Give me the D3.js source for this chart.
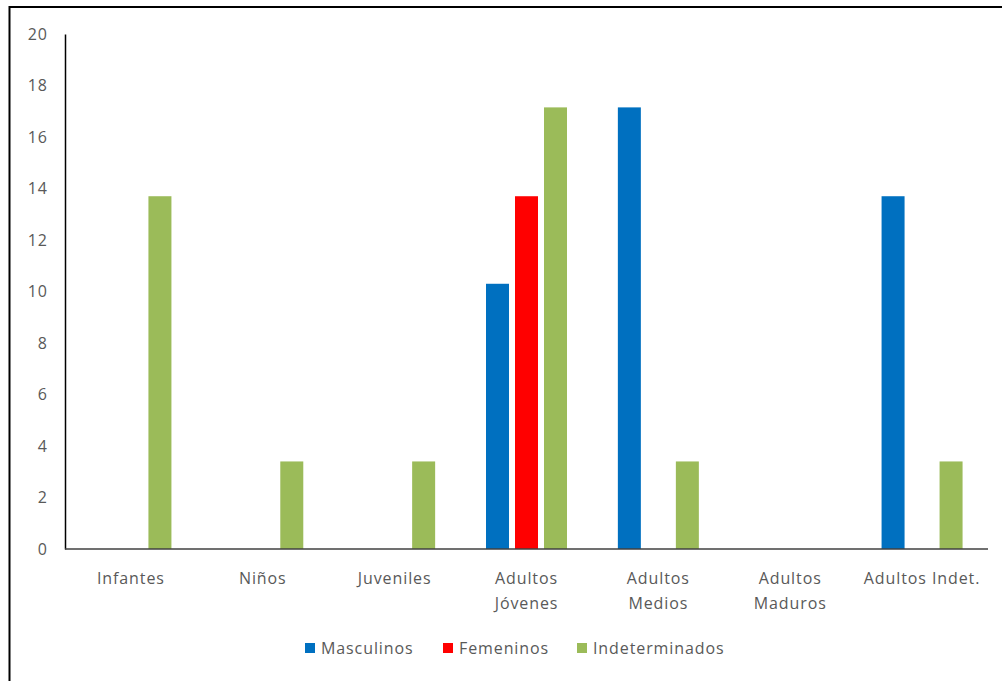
<!DOCTYPE html>
<html><head><meta charset="utf-8">
<script src="https://cdn.jsdelivr.net/npm/d3@7"></script>
<style>body{margin:0;background:#fff;}svg{display:block;}</style>
</head><body>
<svg id="c" width="1002" height="681"></svg>
<script>
const categories = [["Infantes"],["Niños"],["Juveniles"],["Adultos","Jóvenes"],["Adultos","Medios"],["Adultos","Maduros"],["Adultos Indet."]];
const seriesNames = ["Masculinos","Femeninos","Indeterminados"];
const seriesColors = ["#0070C0","#FF0000","#9BBB59"];
const masculinos = [0,0,0,10.3,17.15,0,13.7];
const femeninos = [0,0,0,13.7,0,0,0];
const indeterminados = [13.7,3.4,3.4,17.15,3.4,0,3.4];
const yTicks = [0,2,4,6,8,10,12,14,16,18,20];

const svg = d3.select("#c");
const font = "'Open Sans', sans-serif";
svg.append("rect").attr("x",9.5).attr("y",7).attr("width",1100).attr("height",800)
  .attr("fill","none").attr("stroke","#000").attr("stroke-width",2);

const x0 = 65, x1 = 988, yTop = 34, yBot = 549;
const x = d3.scaleBand().domain(d3.range(categories.length)).range([x0,x1]).padding(0);
const y = d3.scaleLinear().domain([0,20]).range([yBot,yTop]);
const xs = d3.scaleBand().domain([0,1,2]).range([-40.5,40.5]).paddingInner(0.207).paddingOuter(0);

const series = [masculinos,femeninos,indeterminados];
series.forEach((vals,si)=>{
  svg.append("g").selectAll("rect").data(vals).join("rect")
    .attr("x",(d,i)=>x(i)+x.bandwidth()/2+xs(si))
    .attr("width",xs.bandwidth())
    .attr("y",d=>y(d))
    .attr("height",d=>yBot-y(d))
    .attr("fill",seriesColors[si]);
});

// y axis
const ya = svg.append("g").attr("transform",`translate(${x0},0)`)
  .call(d3.axisLeft(y).tickValues(yTicks).tickSize(0).tickPadding(17));
ya.select(".domain").attr("stroke","#000").attr("stroke-width",1.5);
ya.selectAll("text").attr("font-family",font).attr("font-size",16).attr("letter-spacing","1px").attr("fill","#595959");

// x baseline
svg.append("line").attr("x1",x0).attr("x2",x1).attr("y1",yBot).attr("y2",yBot)
  .attr("stroke","#404040").attr("stroke-width",1.5);

// x labels
const xl = svg.append("g").selectAll("text").data(categories).join("text")
  .attr("x",(d,i)=>x(i)+x.bandwidth()/2).attr("y",584)
  .attr("text-anchor","middle").attr("font-family",font).attr("font-size",16)
  .attr("letter-spacing","0.9px").attr("fill","#595959");
xl.selectAll("tspan").data(d=>d).join("tspan")
  .attr("x",function(){return this.parentNode.getAttribute("x");})
  .attr("dy",(d,i)=>i===0?0:25).text(d=>d);

// legend
const legX = [305,443,577];
const lg = svg.append("g").selectAll("g").data(seriesNames).join("g")
  .attr("transform",(d,i)=>`translate(${legX[i]},648)`);
lg.append("rect").attr("x",0).attr("y",-5).attr("width",10).attr("height",10)
  .attr("fill",(d,i)=>seriesColors[i]);
lg.append("text").attr("x",16).attr("y",6).attr("font-family",font).attr("font-size",16)
  .attr("letter-spacing","0.9px").attr("fill","#595959").text(d=>d);
</script>
</body></html>
